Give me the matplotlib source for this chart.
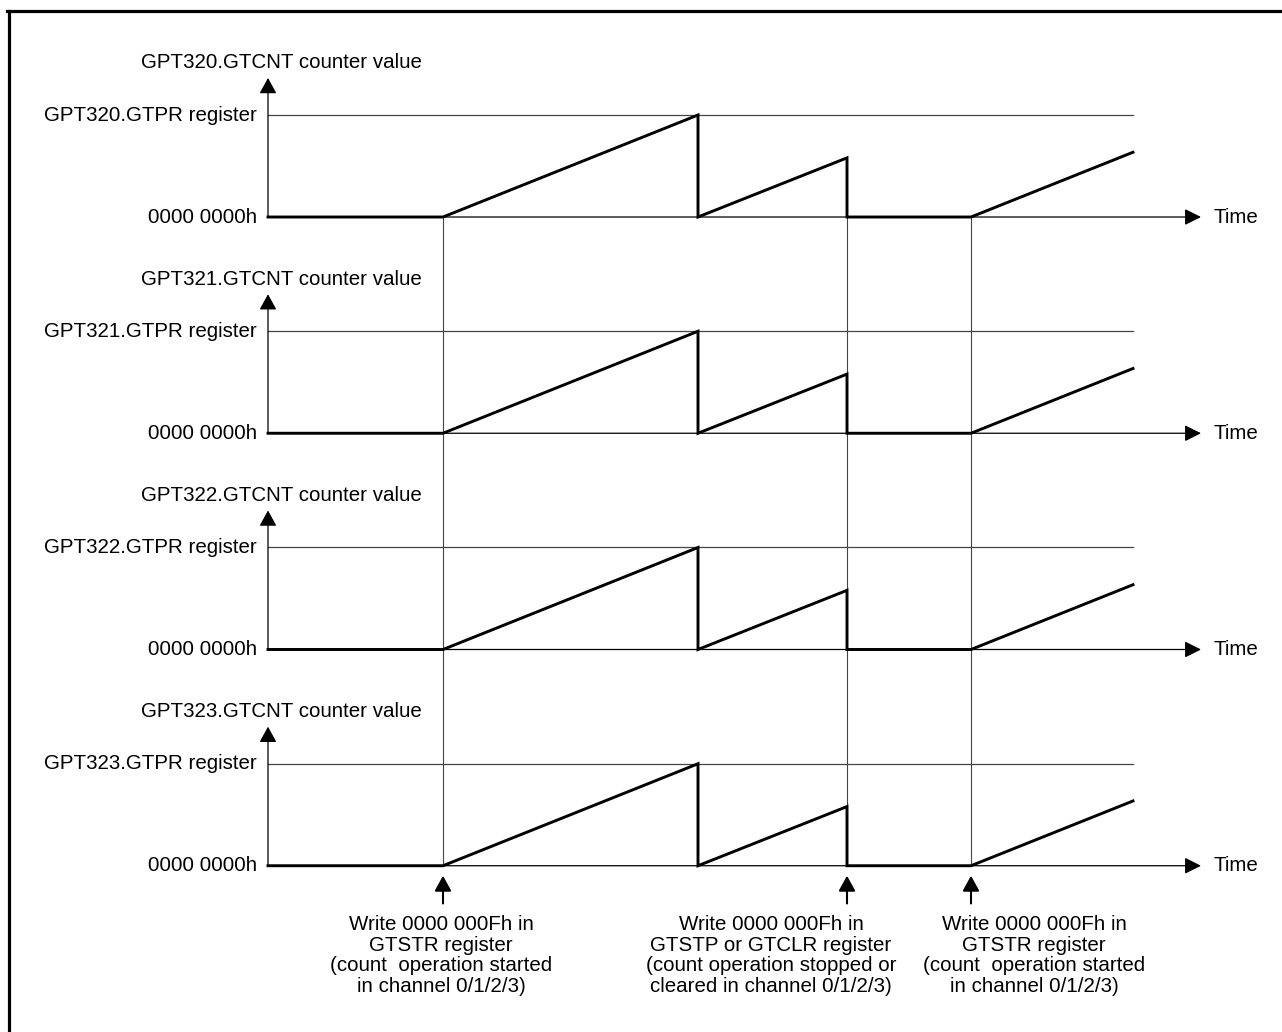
import matplotlib.pyplot as plt
from matplotlib.lines import Line2D

plt.rcParams['font.family'] = ['Liberation Sans', 'DejaVu Sans']

# channels shown, one panel each
channels = ['GPT320', 'GPT321', 'GPT322', 'GPT323']

# counter waveform (same for every channel), time in arbitrary units, value as fraction of GTPR
wave_t = [0.0, 3.5, 8.6, 8.6, 11.58, 11.58, 14.06, 17.3]
wave_v = [0.0, 0.0, 1.0, 0.0, 0.58, 0.0, 0.0, 0.635]

gtpr_value = 1.0
gtpr_end = 17.3
time_end = 18.66

# register writes (event times) and their notes
event_t = [3.5, 11.58, 14.06]
note_t = [3.46, 10.06, 15.32]
notes = [
    'Write 0000 000Fh in\nGTSTR register\n(count  operation started\nin channel 0/1/2/3)',
    'Write 0000 000Fh in\nGTSTP or GTCLR register\n(count operation stopped or\ncleared in channel 0/1/2/3)',
    'Write 0000 000Fh in\nGTSTR register\n(count  operation started\nin channel 0/1/2/3)',
]

fs = 14.8
thin = '#454545'
panel_gap = 2.12

fig = plt.figure(figsize=(12.82, 10.32), dpi=100)
ax = fig.add_axes([0, 0, 1, 1])
ax.set_xlim(-5.36, 20.28)
ax.set_ylim(-7.99, 2.1275)
ax.axis('off')

for i, ch in enumerate(channels):
    base = -i * panel_gap
    # GTPR level
    ax.plot([0, gtpr_end], [base + gtpr_value] * 2, color=thin, lw=0.9)
    # time axis
    ax.annotate('', xy=(time_end, base), xytext=(0, base),
                arrowprops=dict(arrowstyle='-|>,head_length=0.4,head_width=0.2',
                                mutation_scale=25, lw=0.9, color='black',
                                shrinkA=0, shrinkB=0))
    ax.text(time_end + 0.24, base, 'Time', fontsize=fs, ha='left', va='center')
    # value axis
    ax.annotate('', xy=(0, base + 1.363), xytext=(0, base),
                arrowprops=dict(arrowstyle='-|>,head_length=0.4,head_width=0.22',
                                mutation_scale=24, lw=0.9, color='black',
                                shrinkA=0, shrinkB=0))
    ax.text(0.27, base + 1.51, f'{ch}.GTCNT counter value', fontsize=fs,
            ha='center', va='center')
    ax.text(-0.22, base + gtpr_value, f'{ch}.GTPR register', fontsize=fs,
            ha='right', va='center')
    ax.text(-0.22, base, '0000 0000h', fontsize=fs, ha='right', va='center')

# event guides across all panels
for t in event_t:
    ax.plot([t, t], [0, -(len(channels) - 1) * panel_gap], color=thin, lw=0.8)

# counter waveforms
for i in range(len(channels)):
    base = -i * panel_gap
    ax.plot(wave_t, [v + base for v in wave_v], color='black', lw=2.1,
            solid_joinstyle='miter')

# event arrows and notes
bottom = -(len(channels) - 1) * panel_gap
for t, nt, txt in zip(event_t, note_t, notes):
    ax.annotate('', xy=(t, bottom - 0.098), xytext=(t, bottom - 0.37),
                arrowprops=dict(arrowstyle='-|>,head_length=0.4,head_width=0.22',
                                mutation_scale=23, lw=1.5, color='black',
                                shrinkA=0, shrinkB=0))
    ax.text(nt, bottom - 0.88, txt, fontsize=fs, ha='center', va='center',
            multialignment='center', linespacing=1.12)

# frame (left and top edges visible)
fig.add_artist(Line2D([8.5 / 1282, 8.5 / 1282], [0, 1 - 10.5 / 1032],
                      transform=fig.transFigure, color='black', lw=2.3))
fig.add_artist(Line2D([7 / 1282, 1], [1 - 10.5 / 1032, 1 - 10.5 / 1032],
                      transform=fig.transFigure, color='black', lw=2.3))

fig.savefig('out.png', dpi=100)
